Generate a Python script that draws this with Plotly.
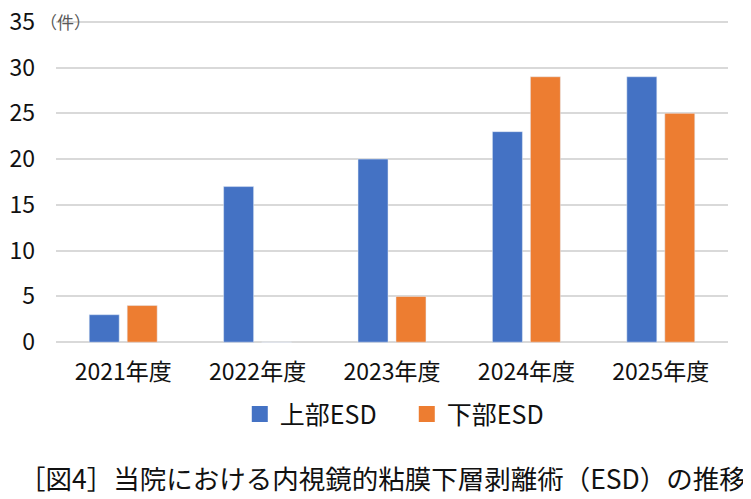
import plotly.graph_objects as go

# data
years = ['2021年度', '2022年度', '2023年度', '2024年度', '2025年度']
upper_esd = [3, 17, 20, 23, 29]
lower_esd = [4, 0, 5, 29, 25]
y_ticks = [0, 5, 10, 15, 20, 25, 30, 35]

font_family = 'Noto Sans CJK JP'
blue = '#4472C4'
orange = '#ED7D31'

fig = go.Figure()
fig.add_trace(go.Bar(x=years, y=upper_esd, name='上部ESD', marker_color=blue, showlegend=False))
fig.add_trace(go.Bar(x=years, y=lower_esd, name='下部ESD', marker_color=orange, showlegend=False))
# legend entries with bigger square swatches
fig.add_trace(go.Scatter(x=[None], y=[None], mode='markers', name='上部ESD',
                         marker=dict(symbol='square', size=16, color=blue)))
fig.add_trace(go.Scatter(x=[None], y=[None], mode='markers', name='下部ESD',
                         marker=dict(symbol='square', size=16, color=orange)))

# page body has an 8px margin, so the figure is a bit smaller than the window
fig.update_layout(
    width=743, height=491,
    margin=dict(l=48, r=23, t=12, b=155, autoexpand=False),
    plot_bgcolor='white', paper_bgcolor='white',
    font=dict(family=font_family, size=22, color='#111111'),
    barmode='group', bargap=0.435, bargroupgap=0.21,
    legend=dict(orientation='h', x=0.522, xanchor='center', y=-0.217, yanchor='middle',
                font=dict(size=25), entrywidth=122, itemwidth=30),
    xaxis=dict(showgrid=False, showline=False, ticks='', tickfont=dict(size=23),
               ticklabelstandoff=12),
    # range a little past 0 and 35 so the edge gridlines are drawn
    yaxis=dict(range=[-0.2, 35.2], tickvals=y_ticks, showgrid=True, gridcolor='#D9D9D9', gridwidth=1.5,
               zeroline=False, showline=False, ticks='', ticklabelstandoff=20,
               ticklabeloverflow='allow', tickfont=dict(size=23)),
)

# unit label next to the top tick
fig.add_annotation(text='（件）', xref='paper', yref='y', x=-0.027, y=35,
                   xanchor='left', yanchor='middle', showarrow=False,
                   font=dict(size=17, color='#595959'))

# caption under the chart
fig.add_annotation(text='［図4］当院における内視鏡的粘膜下層剥離術（ESD）の推移',
                   xref='paper', yref='paper', x=1.03, y=-0.411,
                   xanchor='right', yanchor='middle', showarrow=False,
                   font=dict(size=26.5, color='#111111'))

fig.write_html('out.html')
